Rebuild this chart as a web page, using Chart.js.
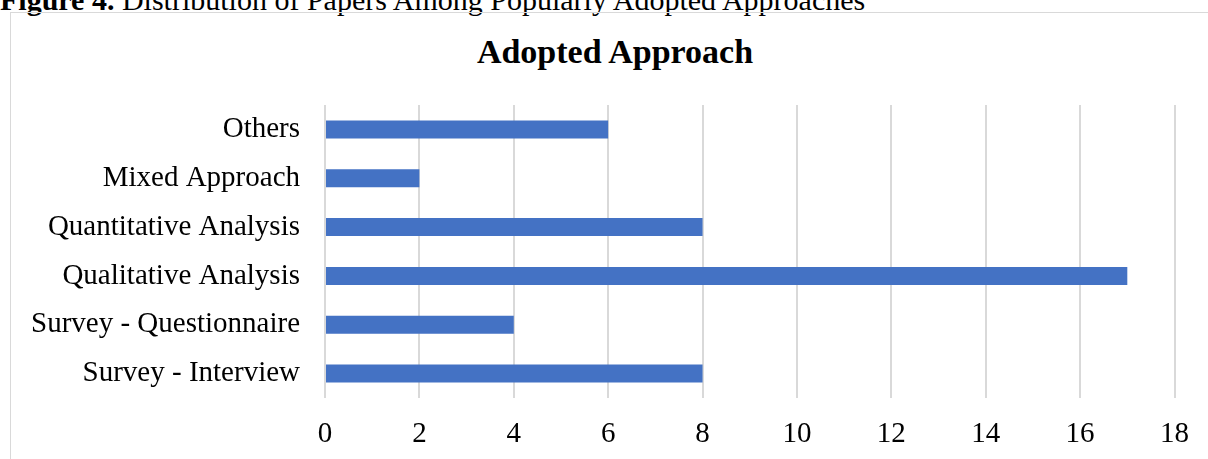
<!DOCTYPE html>
<html>
<head>
<meta charset="utf-8">
<script src="https://cdn.jsdelivr.net/npm/chart.js@4"></script>
<style>
  body { margin: 0; background: #fff; overflow: hidden; }
  #wrap { position: relative; width: 1208px; height: 459px; overflow: hidden; }
  #caption {
    position: absolute; left: 0; top: -17px; white-space: nowrap;
    font-family: "Liberation Serif", "Times New Roman", serif; font-size: 30px; color: #000;
  }
  #box {
    position: absolute; left: 10px; top: 12px; width: 1300px; height: 500px;
    border: 1px solid #d9d9d9; box-sizing: border-box;
  }
  #titulo {
    position: absolute; left: 0; width: 1230px; top: 35px; text-align: center;
    font-family: "Liberation Serif", "Times New Roman", serif; font-size: 34px;
    font-weight: bold; line-height: 34px; color: #000;
  }
  #holder { position: absolute; left: 0; top: 0; width: 1208px; height: 459px; }
</style>
</head>
<body>
<div id="wrap">
  <div id="caption"><b>Figure 4.</b> Distribution of Papers Among Popularly Adopted Approaches</div>
  <div id="box"></div>
  <div id="titulo">Adopted Approach</div>
  <div id="holder"><canvas id="miGrafico"></canvas></div>
</div>
<script>
const categorias = [
  "Others",
  "Mixed Approach",
  "Quantitative Analysis",
  "Qualitative Analysis",
  "Survey - Questionnaire",
  "Survey - Interview",
];
const valores = [6, 2, 8, 17, 4, 8];
const ticksX = [0, 2, 4, 6, 8, 10, 12, 14, 16, 18];

const serif = "'Liberation Serif', 'Times New Roman', serif";

let ctx = document.getElementById("miGrafico").getContext("2d");

let chart = new Chart(ctx, {
  type: "bar",
  data: {
    labels: categorias,
    datasets: [
      {
        label: "Papers",
        data: valores,
        backgroundColor: "#4472c4",
        borderWidth: 0,
        barPercentage: 0.37,
        categoryPercentage: 1,
      },
    ],
  },
  options: {
    indexAxis: "y",
    responsive: true,
    maintainAspectRatio: false,
    animation: false,
    layout: { padding: { left: 0, right: 31, top: 105, bottom: 0 } },
    plugins: {
      legend: { display: false },
      tooltip: { enabled: false },
    },
    scales: {
      x: {
        min: 0,
        max: ticksX[ticksX.length - 1],
        afterBuildTicks: (axis) => {
          axis.ticks = ticksX.map((v) => ({ value: v }));
        },
        grid: { color: "#d9d9d9", lineWidth: 2, drawTicks: false },
        border: { display: false },
        ticks: {
          color: "#000",
          padding: 19,
          font: { family: serif, size: 29 },
        },
        afterFit: (axis) => {
          axis.height = 61;
        },
      },
      y: {
        grid: { display: false },
        border: { display: false },
        ticks: {
          color: "#000",
          padding: 17,
          font: { family: serif, size: 29 },
        },
        afterFit: (axis) => {
          axis.width = 325;
        },
      },
    },
  },
});
</script>
</body>
</html>
